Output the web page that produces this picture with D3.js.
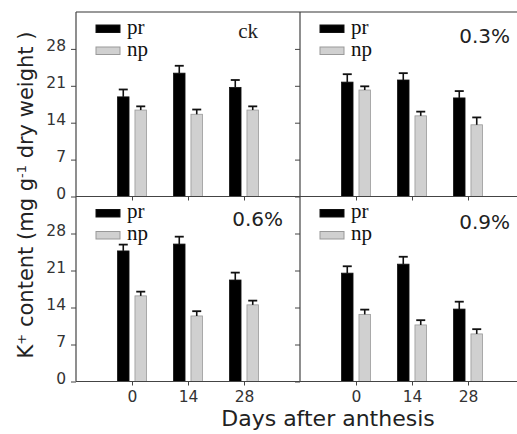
<!DOCTYPE html>
<html>
<head>
<meta charset="utf-8">
<script src="https://cdn.jsdelivr.net/npm/d3@7"></script>
<style>
  html, body { margin: 0; padding: 0; background: #fff; }
  svg { display: block; }
</style>
</head>
<body>
<svg id="chart" width="517" height="434"></svg>
<script>
// ---- data ----
const days = ["0", "14", "28"];
const series = ["pr", "np"];
const panelNames = ["ck", "0.3%", "0.6%", "0.9%"];
const prValues = [
  [18.9, 23.4, 20.7],
  [21.7, 22.1, 18.7],
  [24.7, 26.0, 19.2],
  [20.5, 22.2, 13.7]
];
const prErrors = [
  [1.4, 1.4, 1.4],
  [1.5, 1.3, 1.3],
  [1.2, 1.4, 1.4],
  [1.3, 1.4, 1.4]
];
const npValues = [
  [16.4, 15.6, 16.4],
  [20.2, 15.3, 13.6],
  [16.2, 12.4, 14.5],
  [12.7, 10.7, 9.0]
];
const npErrors = [
  [0.7, 0.9, 0.7],
  [0.7, 0.8, 1.4],
  [0.8, 0.9, 0.8],
  [0.9, 0.9, 0.9]
];
const yTicks = [0, 7, 14, 21, 28];
const yMax = 35;

// ---- layout ----
(function () {
const svg = d3.select("#chart");
const leftX = 76, midX = 300, panelW = 224;
const topY = 12, midY = 196.5, bottomY = 381.5;
const panelLayout = [
  { x0: leftX, y0: topY, y1: midY, showY: true, showX: false, labelX: 258, labelDy: 26, serif: true },
  { x0: midX, y0: topY, y1: midY, showY: false, showX: false, labelX: 510, labelDy: 31, serif: false },
  { x0: leftX, y0: midY, y1: bottomY, showY: true, showX: true, labelX: 283, labelDy: 29, serif: false },
  { x0: midX, y0: midY, y1: bottomY, showY: false, showX: true, labelX: 510, labelDy: 32, serif: false }
];
const colors = { pr: "#000000", np: "#d0d0d0" };
const strokes = { pr: "#111111", np: "#999999" };
const axisColor = "#444";

panelNames.forEach((name, i) => {
  const L = panelLayout[i];
  const g = svg.append("g");
  const x = d3.scalePoint().domain(days).range([L.x0, L.x0 + panelW]).padding(1);
  const xs = d3.scaleBand().domain(series).range([-14.5, 14.5]).paddingInner(0.34);
  const y = d3.scaleLinear().domain([0, yMax]).range([L.y1, L.y0]);

  // y axis
  const yAxis = d3.axisLeft(y).tickValues(yTicks).tickSize(5).tickPadding(5)
    .tickFormat(L.showY ? d3.format("d") : "");
  const ya = g.append("g").attr("transform", `translate(${L.x0},0)`).call(yAxis);
  ya.select(".domain").remove();
  ya.selectAll(".tick line").attr("stroke", axisColor).attr("stroke-width", 1);
  ya.selectAll(".tick text")
    .attr("font-family", "DejaVu Sans, sans-serif").attr("font-size", 15.5)
    .attr("fill", "#333").attr("dy", "0.1em");

  // x axis
  const xAxis = d3.axisBottom(x).tickSize(4).tickPadding(5)
    .tickFormat(L.showX ? (d => d) : "");
  const xa = g.append("g").attr("transform", `translate(0,${L.y1})`).call(xAxis);
  xa.select(".domain").remove();
  xa.selectAll(".tick line").attr("stroke", axisColor).attr("stroke-width", 1);
  xa.selectAll(".tick text")
    .attr("font-family", "DejaVu Sans, sans-serif").attr("font-size", 15.5)
    .attr("fill", "#333");

  // bars
  days.forEach((d, j) => {
    const vals = { pr: prValues[i][j], np: npValues[i][j] };
    const errs = { pr: prErrors[i][j], np: npErrors[i][j] };
    series.forEach(s => {
      const bx = x(d) + xs(s);
      const bw = xs.bandwidth();
      g.append("rect")
        .attr("x", bx).attr("y", y(vals[s]))
        .attr("width", bw).attr("height", y(0) - y(vals[s]))
        .attr("fill", colors[s]).attr("stroke", strokes[s]).attr("stroke-width", 0.8);
      const cx = bx + bw / 2;
      g.append("line")
        .attr("x1", cx).attr("x2", cx)
        .attr("y1", y(vals[s])).attr("y2", y(vals[s] + errs[s]))
        .attr("stroke", "#111").attr("stroke-width", 1.6);
      g.append("line")
        .attr("x1", cx - 4.5).attr("x2", cx + 4.5)
        .attr("y1", y(vals[s] + errs[s])).attr("y2", y(vals[s] + errs[s]))
        .attr("stroke", "#111").attr("stroke-width", 1.8);
    });
  });

  // legend
  series.forEach((s, k) => {
    const ly = L.y0 + 13 + k * 22;
    g.append("rect")
      .attr("x", L.x0 + 20).attr("y", ly).attr("width", 24).attr("height", 7.5)
      .attr("fill", colors[s]).attr("stroke", strokes[s]).attr("stroke-width", 1);
    g.append("text")
      .attr("x", L.x0 + 51).attr("y", ly + 8.5)
      .attr("font-family", "Liberation Serif, Times New Roman, serif")
      .attr("font-size", 21).attr("fill", "#111")
      .text(s);
  });

  // panel label
  g.append("text")
    .attr("x", L.labelX).attr("y", L.y0 + L.labelDy)
    .attr("text-anchor", "end")
    .attr("font-family", L.serif ? "Liberation Serif, serif" : "DejaVu Sans, sans-serif")
    .attr("font-size", L.serif ? 21 : 20)
    .attr("fill", "#222")
    .text(name);
});

// frame lines
svg.append("line").attr("x1", leftX).attr("x2", 517).attr("y1", topY).attr("y2", topY)
  .attr("stroke", "#777").attr("stroke-width", 1.5);
svg.append("line").attr("x1", leftX).attr("x2", leftX).attr("y1", topY).attr("y2", bottomY)
  .attr("stroke", axisColor).attr("stroke-width", 1.2);
svg.append("line").attr("x1", midX).attr("x2", midX).attr("y1", topY).attr("y2", bottomY)
  .attr("stroke", axisColor).attr("stroke-width", 1.2);
svg.append("line").attr("x1", leftX).attr("x2", 517).attr("y1", midY).attr("y2", midY)
  .attr("stroke", axisColor).attr("stroke-width", 1.2);
svg.append("line").attr("x1", leftX).attr("x2", 517).attr("y1", bottomY).attr("y2", bottomY)
  .attr("stroke", axisColor).attr("stroke-width", 1.2);

// y axis title
const yt = svg.append("text")
  .attr("transform", "translate(33,195) rotate(-90)")
  .attr("text-anchor", "middle")
  .attr("font-family", "DejaVu Sans, sans-serif")
  .attr("font-size", 21).attr("fill", "#222");
yt.append("tspan").text("K");
yt.append("tspan").attr("baseline-shift", "super").attr("font-size", 13).text("+");
yt.append("tspan").text(" content (mg g");
yt.append("tspan").attr("baseline-shift", "super").attr("font-size", 13).text("-1");
yt.append("tspan").text(" dry weight )");

// x axis title
svg.append("text")
  .attr("x", 328).attr("y", 426)
  .attr("text-anchor", "middle")
  .attr("font-family", "DejaVu Sans, sans-serif")
  .attr("font-size", 22).attr("fill", "#222")
  .text("Days after anthesis");
})();
</script>
</body>
</html>
